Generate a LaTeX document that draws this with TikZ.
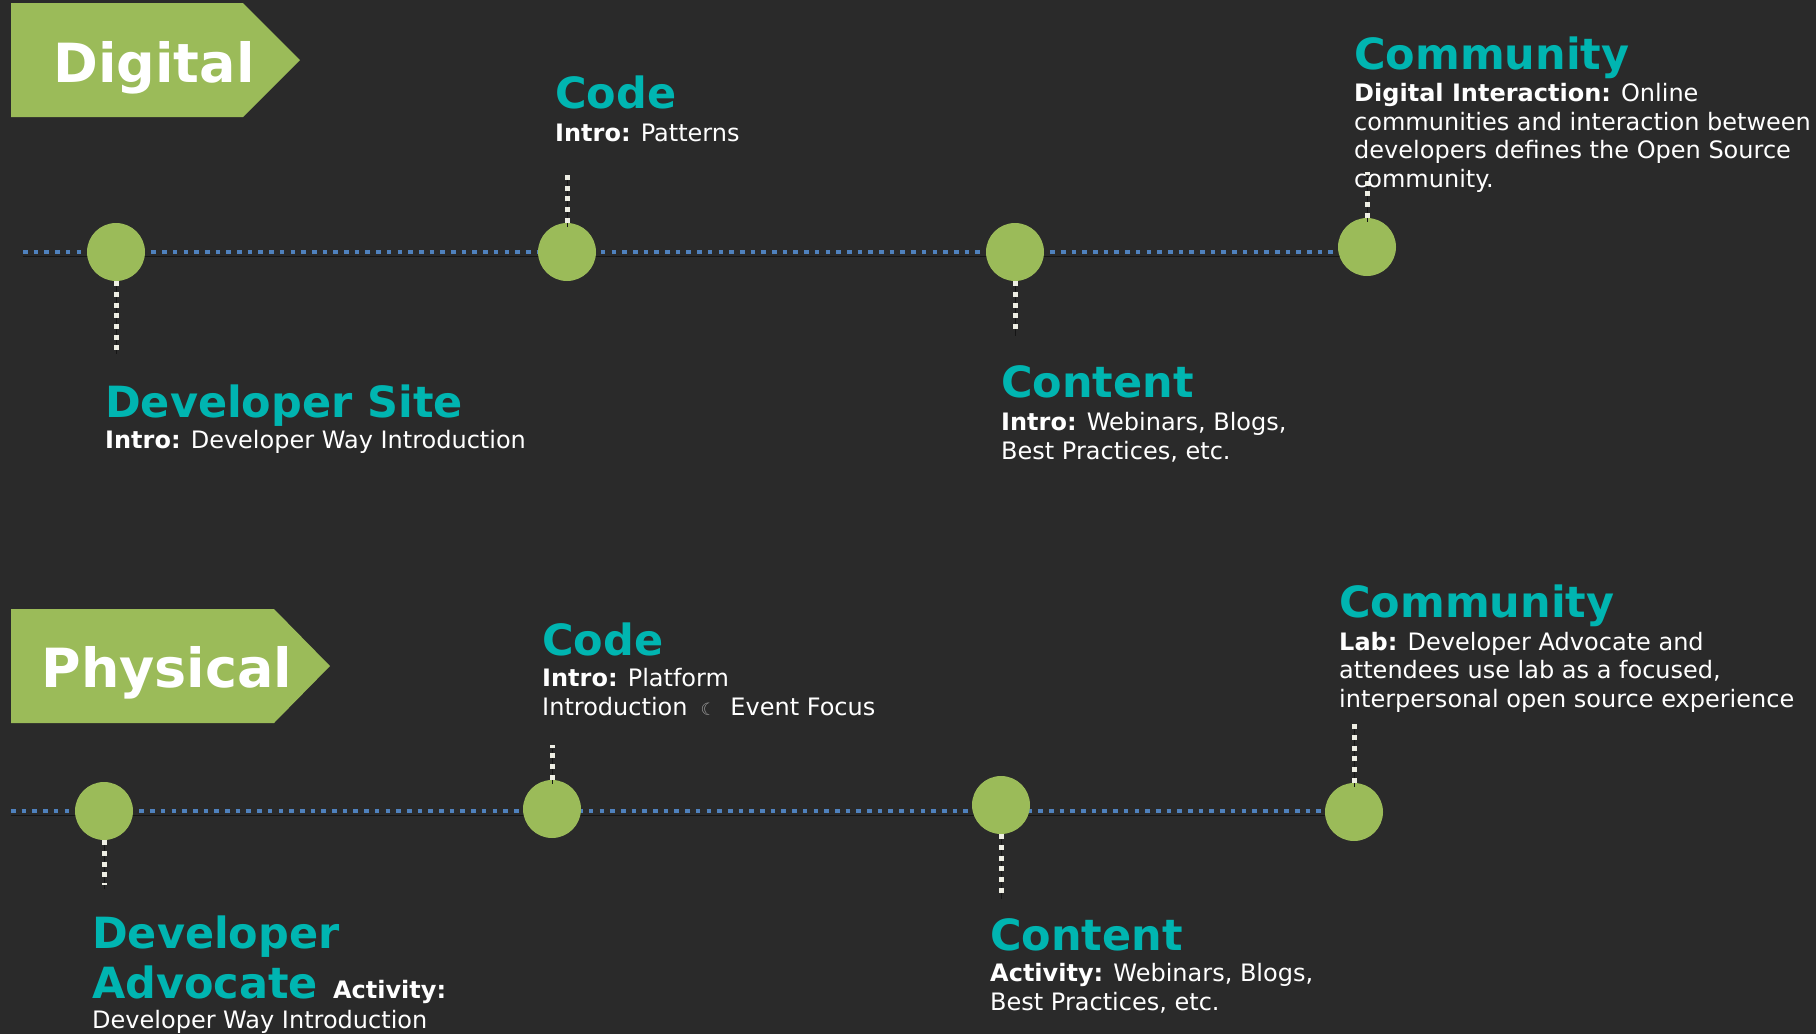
\documentclass[tikz,border=0pt]{standalone}
\usepackage{fontspec}
\setmainfont{DejaVu Sans}
\usetikzlibrary{positioning}
\pgfdeclarelayer{background}
\pgfsetlayers{background,main}
\definecolor{bg}{HTML}{2A2A2A}
\definecolor{leaf}{HTML}{9BBB59}
\definecolor{tealc}{HTML}{00B5B1}
\definecolor{trackc}{HTML}{4F81BD}
\definecolor{stubc}{HTML}{EEEEE4}
\definecolor{shadowc}{HTML}{151515}
\definecolor{moonc}{HTML}{A0A0A0}
\tikzset{
  dot/.style={circle,fill=leaf,minimum size=58pt,inner sep=0},
  track/.style={draw=trackc,line width=4.6pt,dash pattern=on 4.6pt off 6.1pt,
    preaction={draw=shadowc,transform canvas={yshift=-4pt}}},
  stub/.style={draw=stubc,line width=5pt,dash pattern=on 5pt off 5.7pt,
    preaction={draw=shadowc,transform canvas={yshift=-4pt}}},
  head/.style={anchor=base west,inner sep=0,text=tealc,align=left,
    font=\fontsize{43}{50}\selectfont\bfseries},
  body/.style={anchor=base west,inner sep=0,text=white,align=left,
    font=\fontsize{24}{28.5}\selectfont},
  flagtext/.style={anchor=base,inner sep=0,text=white,
    font=\fontsize{54}{60}\selectfont\bfseries}
}
\begin{document}
\begin{tikzpicture}[x=1pt,y=-1pt]
\useasboundingbox (0,0) rectangle (1816,1034);

\fill[leaf] (11,3) -- (243,3) -- (300,60) -- (243,117) -- (11,117) -- cycle;
\node[flagtext] (digital) at (154,82) {Digital};
\fill[leaf] (11,609) -- (274,609) -- (330,666) -- (274,723) -- (11,723) -- cycle;
\node[flagtext] (physical) at (167,687) {Physical};

\node[dot] (1) at (116,252) {};
\node[dot] (2) at (567,252) {};
\node[dot] (3) at (1015,252) {};
\node[dot] (4) at (1367,247) {};
\coordinate (a) at (23,252);
\coordinate (s1) at (116,350);
\coordinate (s2) at (567,173);
\coordinate (s3) at (1015,332);
\coordinate (s4) at (1367,172);
\draw[stub] (1) -- (s1);
\draw[stub] (2) -- (s2);
\draw[stub] (3) -- (s3);
\draw[stub] (4) -- (s4);

\node[head] (site) at (105,417) {Developer Site};
\node[body] (site b) at (105,448) {\textbf{Intro:} Developer Way Introduction};
\node[head] (code) at (555,108) {Code};
\node[body] (code b) at (555,141) {\textbf{Intro:} Patterns};
\node[head] (content) at (1001,397) {Content};
\node[body] (content b) at (1001,459) {\textbf{Intro:} Webinars, Blogs,\\Best Practices, etc.};
\node[head] (comm) at (1354,69) {Community};
\node[body] (comm b) at (1354,187) {\textbf{Digital Interaction:} Online\\communities and interaction between\\developers defines the Open Source\\community.};

\node[dot] (5) at (104,811) {};
\node[dot] (6) at (552,809) {};
\node[dot] (7) at (1001,805) {};
\node[dot] (8) at (1354,812) {};
\coordinate (b) at (11,811);
\coordinate (s5) at (104,885);
\coordinate (s6) at (552,745);
\coordinate (s7) at (1001,895);
\coordinate (s8) at (1354,724);
\draw[stub] (5) -- (s5);
\draw[stub] (6) -- (s6);
\draw[stub] (7) -- (s7);
\draw[stub] (8) -- (s8);

\node[head] (advocate) at (92,998) {Developer\\Advocate {\fontsize{24}{28.5}\selectfont\color{white}Activity:}};
\node[body] (advocate b) at (92,1028) {Developer Way Introduction};
\node[head] (code2) at (542,655) {Code};
\node[body] (code2 b) at (542,715) {\textbf{Intro:} Platform\\Introduction\hspace{13pt}{\color{moonc}\fontsize{17}{17}\selectfont ☾}\hspace{7pt} Event Focus};
\node[head] (content2) at (990,950) {Content};
\node[body] (content2 b) at (990,1010) {\textbf{Activity:} Webinars, Blogs,\\Best Practices, etc.};
\node[head] (comm2) at (1339,617) {Community};
\node[body] (comm2 b) at (1339,707) {\textbf{Lab:} Developer Advocate and\\attendees use lab as a focused,\\interpersonal open source experience};

\begin{pgfonlayer}{background}
\fill[bg] (0,0) rectangle (1816,1034);
\draw[track] (a) -- (a -| 4.center);
\draw[track] (b) -- (b -| 8.center);
\end{pgfonlayer}
\end{tikzpicture}
\end{document}
